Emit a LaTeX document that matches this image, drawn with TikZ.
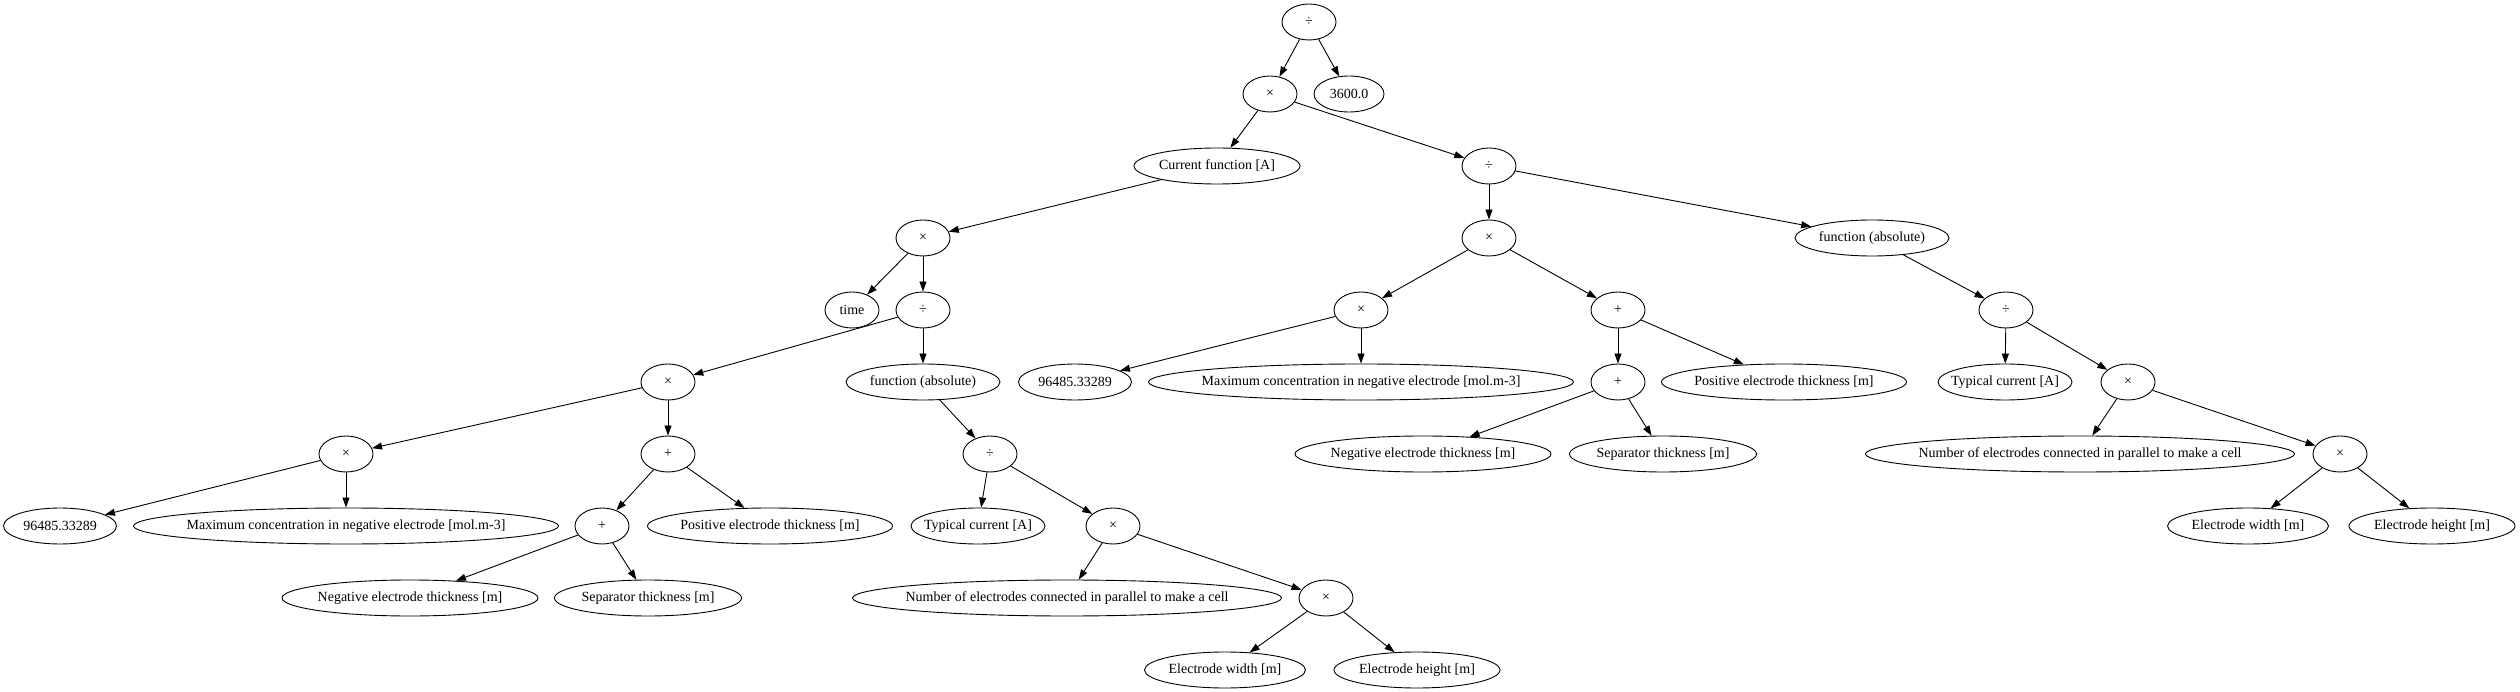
\documentclass[tikz,border=0pt]{standalone}
\usepackage{fontspec}
\setmainfont{Liberation Serif}
\usetikzlibrary{shapes.geometric,arrows.meta}
\newcommand\zbox[1]{\makebox[0pt]{#1}}
\tikzset{
  ell/.style={ellipse, draw, line width=0.9pt, inner sep=0pt, minimum height=36pt, minimum width=54pt,
              font=\fontsize{14}{16}\selectfont},
  edge/.style={draw, line width=0.9pt, -{Triangle[length=10pt,width=7pt]}}
}
\begin{document}
\begin{tikzpicture}[x=1pt,y=-1pt]
\useasboundingbox (0,0) rectangle (2520,692);
% top
\node[ell] (root) at (1309,22) {\zbox{÷}};
\node[ell] (m1) at (1270,94) {\zbox{×}};
\node[ell, minimum width=70pt] (c3600) at (1349,94) {\zbox{3600.0}};
\node[ell, minimum width=166pt] (cur) at (1217,166) {\zbox{Current function [A]}};
\node[ell] (d2) at (1489,166) {\zbox{÷}};
% left branch
\node[ell] (lm3) at (923,238) {\zbox{×}};
\node[ell] (time) at (852,310) {\zbox{time}};
\node[ell] (ld4) at (923,310) {\zbox{÷}};
\node[ell] (lm5) at (668,382) {\zbox{×}};
\node[ell, minimum width=154pt] (labs) at (923,382) {\zbox{function (absolute)}};
\node[ell] (lm6) at (346,454) {\zbox{×}};
\node[ell] (lp6) at (668,454) {\zbox{+}};
\node[ell] (ld6) at (990,454) {\zbox{÷}};
\node[ell, minimum width=113pt] (lf) at (60,526) {\zbox{96485.33289}};
\node[ell, minimum width=425pt] (lmax) at (346,526) {\zbox{Maximum concentration in negative electrode [mol.m-3]}};
\node[ell] (lp7) at (602,526) {\zbox{+}};
\node[ell, minimum width=245pt] (lpos) at (770,526) {\zbox{Positive electrode thickness [m]}};
\node[ell, minimum width=134pt] (ltyp) at (978,526) {\zbox{Typical current [A]}};
\node[ell] (lm7) at (1113,526) {\zbox{×}};
\node[ell, minimum width=256pt] (lneg) at (410,598) {\zbox{Negative electrode thickness [m]}};
\node[ell, minimum width=187pt] (lsep) at (648,598) {\zbox{Separator thickness [m]}};
\node[ell, minimum width=429pt] (lnum) at (1067,598) {\zbox{Number of electrodes connected in parallel to make a cell}};
\node[ell] (lm8) at (1326,598) {\zbox{×}};
\node[ell, minimum width=161pt] (lew) at (1225,670) {\zbox{Electrode width [m]}};
\node[ell, minimum width=166pt] (leh) at (1417,670) {\zbox{Electrode height [m]}};
% right branch
\node[ell] (rm3) at (1489,238) {\zbox{×}};
\node[ell, minimum width=154pt] (rabs) at (1872,238) {\zbox{function (absolute)}};
\node[ell] (rm4) at (1361,310) {\zbox{×}};
\node[ell] (rp4) at (1618,310) {\zbox{+}};
\node[ell] (rd4) at (2006,310) {\zbox{÷}};
\node[ell, minimum width=113pt] (rf) at (1075,382) {\zbox{96485.33289}};
\node[ell, minimum width=425pt] (rmax) at (1361,382) {\zbox{Maximum concentration in negative electrode [mol.m-3]}};
\node[ell] (rp5) at (1618,382) {\zbox{+}};
\node[ell, minimum width=245pt] (rpos) at (1784,382) {\zbox{Positive electrode thickness [m]}};
\node[ell, minimum width=134pt] (rtyp) at (2005,382) {\zbox{Typical current [A]}};
\node[ell] (rm5) at (2128,382) {\zbox{×}};
\node[ell, minimum width=256pt] (rneg) at (1423,454) {\zbox{Negative electrode thickness [m]}};
\node[ell, minimum width=187pt] (rsep) at (1663,454) {\zbox{Separator thickness [m]}};
\node[ell, minimum width=429pt] (rnum) at (2080,454) {\zbox{Number of electrodes connected in parallel to make a cell}};
\node[ell] (rm6) at (2340,454) {\zbox{×}};
\node[ell, minimum width=161pt] (rew) at (2248,526) {\zbox{Electrode width [m]}};
\node[ell, minimum width=166pt] (reh) at (2432,526) {\zbox{Electrode height [m]}};
% edges
\path[edge] (root) -- (m1);
\path[edge] (root) -- (c3600);
\path[edge] (m1) -- (cur);
\path[edge] (m1) -- (d2);
\path[edge] (cur) -- (lm3);
\path[edge] (lm3) -- (time);
\path[edge] (lm3) -- (ld4);
\path[edge] (ld4) -- (lm5);
\path[edge] (ld4) -- (labs);
\path[edge] (lm5) -- (lm6);
\path[edge] (lm5) -- (lp6);
\path[edge] (labs) -- (ld6);
\path[edge] (lm6) -- (lf);
\path[edge] (lm6) -- (lmax);
\path[edge] (lp6) -- (lp7);
\path[edge] (lp6) -- (lpos);
\path[edge] (ld6) -- (ltyp);
\path[edge] (ld6) -- (lm7);
\path[edge] (lp7) -- (lneg);
\path[edge] (lp7) -- (lsep);
\path[edge] (lm7) -- (lnum);
\path[edge] (lm7) -- (lm8);
\path[edge] (lm8) -- (lew);
\path[edge] (lm8) -- (leh);
\path[edge] (d2) -- (rm3);
\path[edge] (d2) -- (rabs);
\path[edge] (rm3) -- (rm4);
\path[edge] (rm3) -- (rp4);
\path[edge] (rabs) -- (rd4);
\path[edge] (rm4) -- (rf);
\path[edge] (rm4) -- (rmax);
\path[edge] (rp4) -- (rp5);
\path[edge] (rp4) -- (rpos);
\path[edge] (rp5) -- (rneg);
\path[edge] (rp5) -- (rsep);
\path[edge] (rd4) -- (rtyp);
\path[edge] (rd4) -- (rm5);
\path[edge] (rm5) -- (rnum);
\path[edge] (rm5) -- (rm6);
\path[edge] (rm6) -- (rew);
\path[edge] (rm6) -- (reh);
\end{tikzpicture}
\end{document}
